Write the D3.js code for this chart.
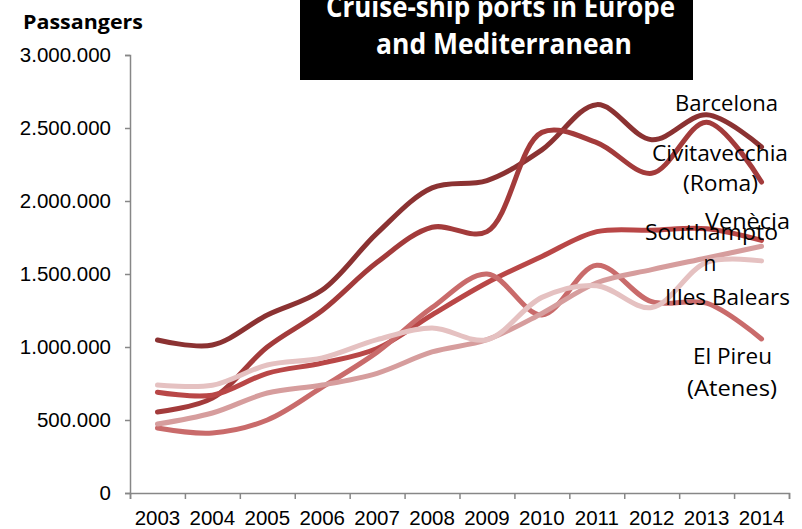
<!DOCTYPE html>
<html><head><meta charset="utf-8">
<script src="https://cdn.jsdelivr.net/npm/d3@7"></script>
<style>
html,body{margin:0;padding:0;background:#fff;}
svg{display:block;}
</style></head>
<body>
<svg id="chart" width="802" height="529"></svg>
<script>
const years = ["2003","2004","2005","2006","2007","2008","2009","2010","2011","2012","2013","2014"];
const barcelona     = [1048000,1014000,1219000,1390000,1780000,2090000,2140000,2350000,2660000,2420000,2590000,2370000];
const civitavecchia = [555000,650000,1000000,1250000,1580000,1820000,1790000,2470000,2400000,2190000,2540000,2130000];
const venecia       = [690000,670000,820000,890000,990000,1220000,1440000,1620000,1790000,1800000,1810000,1730000];
const elPireu       = [445000,411000,500000,725000,965000,1270000,1500000,1220000,1560000,1310000,1300000,1055000];
const southampton   = [472000,548000,685000,740000,820000,966000,1050000,1230000,1440000,1530000,1610000,1690000];
const illesBalears  = [740000,738000,877000,925000,1050000,1130000,1050000,1340000,1420000,1270000,1580000,1590000];
const yTicks = [0,500000,1000000,1500000,2000000,2500000,3000000];

const series = [
  {name:"Barcelona", values:barcelona, color:"#8b3232"},
  {name:"Civitavecchia", values:civitavecchia, color:"#a33b3b"},
  {name:"Venècia", values:venecia, color:"#b94747"},
  {name:"El Pireu", values:elPireu, color:"#c96b6b"},
  {name:"Southampton", values:southampton, color:"#d69d9d"},
  {name:"Illes Balears", values:illesBalears, color:"#e5c1c1"}
];

const svg = d3.select("#chart");
const L = 130, R = 789, T = 55, B = 493;
const x = d3.scaleBand().domain(years).range([L, R]).padding(0);
const y = d3.scaleLinear().domain([0, 3000000]).range([B, T]);
const fmt = d3.formatLocale({decimal:",", thousands:".", grouping:[3], currency:["",""]}).format(",d");
const axisColor = "#878787";
const sans = "'Liberation Sans', Arial, sans-serif";
const cal = "'Open Sans', Lato, sans-serif";

// Y axis
const gy = svg.append("g").attr("transform", `translate(${L},0)`)
  .call(d3.axisLeft(y).tickValues(yTicks).tickFormat(fmt).tickSize(5).tickPadding(14));
gy.select(".domain").attr("stroke", axisColor).attr("stroke-width", 1.5);
gy.selectAll(".tick line").attr("stroke", axisColor).attr("stroke-width", 1.5);
gy.selectAll(".tick text").attr("font-family", sans).attr("font-size", 20.5).attr("fill", "#000");

// X axis (ticks at band boundaries)
const xb = d3.scaleLinear().domain([0, years.length]).range([L, R]);
const gx = svg.append("g").attr("transform", `translate(0,${B})`)
  .call(d3.axisBottom(xb).tickValues(d3.range(years.length + 1)).tickFormat("").tickSize(6));
gx.select(".domain").attr("stroke", axisColor).attr("stroke-width", 1.5);
gx.selectAll(".tick line").attr("stroke", axisColor).attr("stroke-width", 1.5);
svg.append("g").selectAll("text").data(years).join("text")
  .attr("x", d => x(d) + x.bandwidth() / 2).attr("y", 525)
  .attr("text-anchor", "middle").attr("font-family", sans).attr("font-size", 20.5)
  .attr("fill", "#000").text(d => d);

// Lines
const line = d3.line()
  .x((d, i) => x(years[i]) + x.bandwidth() / 2)
  .y(d => y(d))
  .curve(d3.curveCatmullRom.alpha(0.5));
svg.append("g").selectAll("path").data(series).join("path")
  .attr("d", s => line(s.values))
  .attr("fill", "none").attr("stroke", s => s.color)
  .attr("stroke-width", 5).attr("stroke-linecap", "round").attr("stroke-linejoin", "round");

// helper: text spanning [x0,x1]
function fitText(g, t, x0, x1, yb, size, weight, fill) {
  const el = g.append("text").attr("x", (x0 + x1) / 2).attr("y", yb)
    .attr("text-anchor", "middle").attr("font-family", cal).attr("font-size", size)
    .attr("font-weight", weight || "normal").attr("fill", fill || "#000").text(t);
  if (x1 > x0) el.attr("textLength", x1 - x0).attr("lengthAdjust", "spacingAndGlyphs");
  return el;
}

// Series labels
const lg = svg.append("g");
fitText(lg, "Barcelona", 675, 778, 111, 21);
fitText(lg, "Civitavecchia", 652, 788, 161, 21);
fitText(lg, "(Roma)", 683, 758, 191, 21);
fitText(lg, "Southampto", 645, 778, 240, 21);
fitText(lg, "n", 710, 710, 271, 21);
fitText(lg, "Venècia", 705, 790, 229, 21);
fitText(lg, "Illes Balears", 665, 790, 305, 21);
fitText(lg, "El Pireu", 693, 772, 364, 21);
fitText(lg, "(Atenes)", 687, 777, 396, 21);

// Y axis title
const tg = svg.append("g");
fitText(tg, "Passangers", 23, 143, 29, 19, "bold");

// Title box
svg.append("rect").attr("x", 300).attr("y", -2).attr("width", 393).attr("height", 82).attr("fill", "#000");
fitText(svg, "Cruise-ship ports in Europe", 326, 675, 17, 28, "bold", "#fff");
fitText(svg, "and Mediterranean", 376, 632, 54, 28, "bold", "#fff");
</script>
</body></html>
